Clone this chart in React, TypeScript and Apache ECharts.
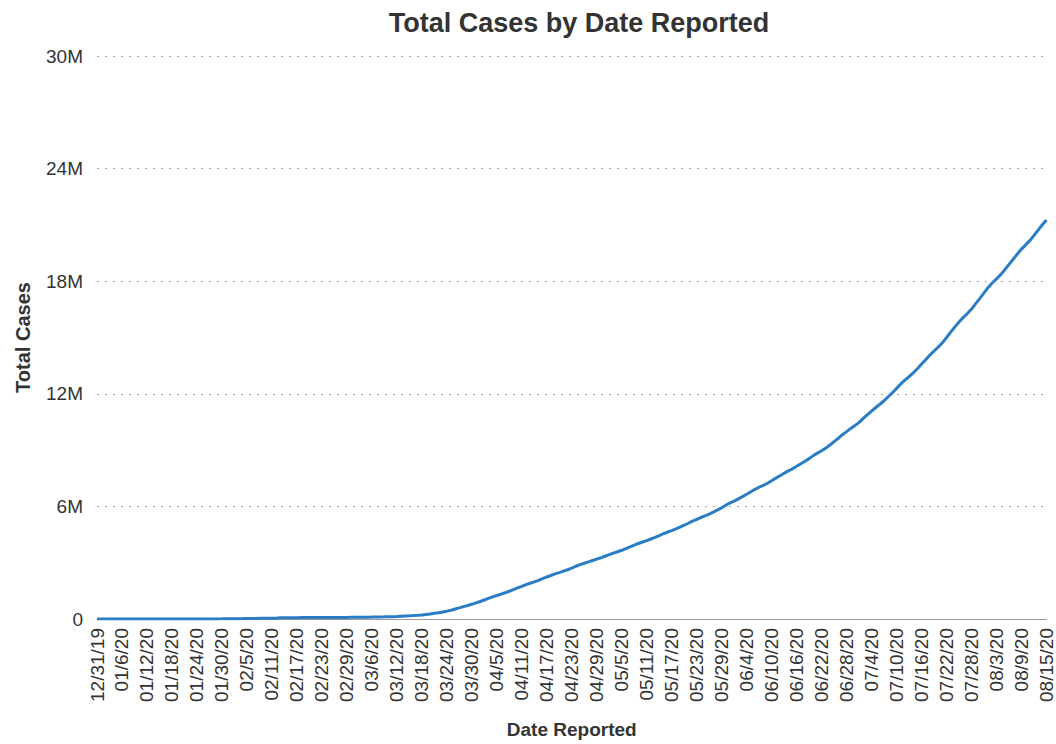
import React, { useEffect, useRef } from "react";
import * as echarts from "echarts";

// Cumulative total cases (thousands), by month
const dec19 = [0.027];
const jan20 = [0.027, 0.027, 0.044, 0.044, 0.059, 0.059, 0.059, 0.059, 0.059, 0.059, 0.059, 0.059, 0.06, 0.06, 0.061, 0.061, 0.066, 0.083, 0.219, 0.239, 0.392, 0.534, 0.652, 1.055, 1.375, 2.031, 2.826, 4.601, 6.076, 7.83, 9.834];
const feb20 = [11.966, 14.559, 17.402, 20.643, 24.579, 28.273, 31.498, 34.897, 37.567, 40.526, 43.112, 45.173, 60.363, 66.885, 69.032, 71.226, 73.26, 75.138, 75.641, 76.199, 76.843, 78.599, 78.985, 79.57, 80.415, 81.397, 82.756, 84.124, 86.013];
const mar20 = [88.371, 90.309, 92.844, 95.124, 97.886, 101.801, 105.847, 109.821, 113.59, 118.62, 125.875, 128.343, 145.193, 156.099, 167.454, 181.574, 197.102, 214.821, 242.57, 272.208, 304.507, 336.953, 378.235, 418.045, 467.653, 529.591, 593.291, 660.706, 720.117, 782.365, 857.487];
const apr20 = [932.605, 1013.157, 1095.917, 1176.06, 1249.754, 1321.481, 1396.476, 1479.804, 1565.278, 1657.526, 1735.65, 1834.721, 1904.838, 1976.191, 2056.054, 2152.437, 2240.19, 2317.758, 2401.378, 2472.259, 2549.123, 2624.068, 2708.885, 2811.193, 2896.746, 2971.475, 3041.764, 3116.398, 3193.886, 3256.846];
const may20 = [3343.777, 3427.343, 3506.729, 3583.055, 3662.691, 3755.341, 3845.718, 3938.064, 4024.009, 4101.699, 4177.502, 4261.747, 4347.018, 4442.163, 4542.347, 4634.068, 4713.62, 4801.943, 4897.492, 4996.472, 5102.424, 5210.817, 5310.362, 5407.613, 5495.061, 5589.626, 5691.79, 5808.946, 5924.275, 6059.017, 6186.867];
const jun20 = [6279.835, 6401.536, 6520.924, 6649.533, 6777.057, 6906.231, 7021.096, 7123.007, 7235.165, 7371.133, 7505.232, 7630.389, 7767.134, 7894.021, 8003.519, 8135.8, 8268.813, 8405.124, 8544.867, 8707.071, 8837.734, 8966.728, 9106.223, 9273.163, 9451.718, 9632.001, 9822.208, 9983.609, 10154.813, 10306.713];
const jul20 = [10480.838, 10690.555, 10889.09, 11081.007, 11270.46, 11442.911, 11628.62, 11845.044, 12059.226, 12287.88, 12525.231, 12727.867, 12912.855, 13118.883, 13333.581, 13581.941, 13813.924, 14066.281, 14281.962, 14488.72, 14717.049, 14998.05, 15282.536, 15565.826, 15820.226, 16064.436, 16273.549, 16514.245, 16802.125, 17088.024, 17378.398];
const aug20 = [17670.009, 17917.498, 18124.117, 18351.826, 18614.111, 18895.063, 19170.063, 19447.853, 19712.016, 19936.21, 20162.474, 20439.814, 20723.744, 21008.779, 21260.76];

const monthBlocks: { month: string; year: string; startDay: number; values: number[] }[] = [
  { month: "12", year: "19", startDay: 31, values: dec19 },
  { month: "01", year: "20", startDay: 1, values: jan20 },
  { month: "02", year: "20", startDay: 1, values: feb20 },
  { month: "03", year: "20", startDay: 1, values: mar20 },
  { month: "04", year: "20", startDay: 1, values: apr20 },
  { month: "05", year: "20", startDay: 1, values: may20 },
  { month: "06", year: "20", startDay: 1, values: jun20 },
  { month: "07", year: "20", startDay: 1, values: jul20 },
  { month: "08", year: "20", startDay: 1, values: aug20 },
];

const categories: string[] = [];
const totals: number[] = [];
monthBlocks.forEach((b) => {
  b.values.forEach((v, i) => {
    categories.push(`${b.month}/${b.startDay + i}/${b.year}`);
    totals.push(v * 1000);
  });
});

const yTicks = [0, 6e6, 12e6, 18e6, 24e6, 30e6];

const FONT = "'Liberation Sans', Arial, Helvetica, sans-serif";

export default function App() {
  const ref = useRef<HTMLDivElement>(null);
  useEffect(() => {
    if (!ref.current) return;
    const chart = echarts.init(ref.current, undefined, { renderer: "svg" });
    chart.setOption({
      animation: false,
      backgroundColor: "#ffffff",
      textStyle: { fontFamily: FONT },
      title: {
        text: "Total Cases by Date Reported",
        left: 574,
        top: 4,
        textAlign: "center",
        textStyle: { fontFamily: FONT, fontSize: 27, fontWeight: "bold", color: "#333333" },
      },
      grid: { left: 97, right: 4, top: 56, bottom: 125, containLabel: false },
      xAxis: {
        type: "category",
        data: categories,
        boundaryGap: false,
        name: "Date Reported",
        nameLocation: "middle",
        nameGap: 101,
        nameTextStyle: { fontFamily: FONT, fontSize: 19, fontWeight: "bold", color: "#333333" },
        axisLine: { show: true, lineStyle: { color: "#9a9a9a", width: 1 } },
        axisTick: { show: false },
        axisLabel: {
          interval: 5,
          rotate: 90,
          margin: 9,
          fontSize: 19,
          color: "#333333",
          fontFamily: FONT,
        },
        splitLine: { show: false },
      },
      yAxis: {
        type: "value",
        min: yTicks[0],
        max: yTicks[yTicks.length - 1],
        interval: yTicks[1] - yTicks[0],
        name: "Total Cases",
        nameLocation: "middle",
        nameRotate: 90,
        nameGap: 64,
        nameTextStyle: { fontFamily: FONT, fontSize: 20, fontWeight: "bold", color: "#333333" },
        axisLine: { show: false },
        axisTick: { show: false },
        axisLabel: {
          margin: 14,
          fontSize: 19,
          color: "#333333",
          fontFamily: FONT,
          formatter: (v: number) => (v === 0 ? "0" : `${v / 1e6}M`),
        },
        splitLine: { show: true, lineStyle: { color: "#a8a8a8", width: 1, type: [2, 6] } },
      },
      series: [
        {
          type: "line",
          data: totals,
          showSymbol: false,
          symbol: "none",
          lineStyle: { color: "#2a7cc4", width: 3 },
          itemStyle: { color: "#2a7cc4" },
        },
      ],
    });
    return () => chart.dispose();
  }, []);
  return (
    <div
      ref={ref}
      style={{ position: "fixed", left: 0, top: 0, width: 1056, height: 744, background: "#fff" }}
    />
  );
}
